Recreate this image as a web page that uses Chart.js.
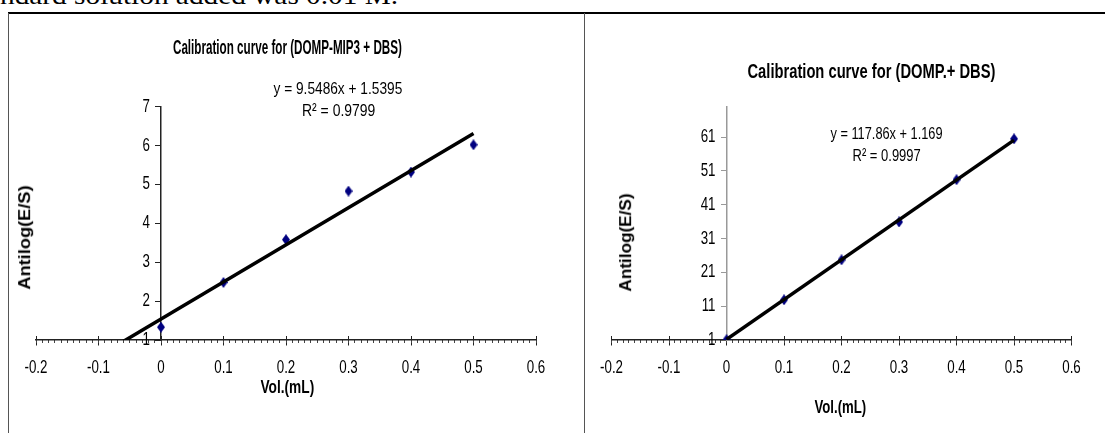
<!DOCTYPE html>
<html><head><meta charset="utf-8">
<script src="https://cdn.jsdelivr.net/npm/chart.js@4.4.1/dist/chart.umd.min.js"></script>
<style>
html,body{margin:0;padding:0;background:#fff;width:1105px;height:433px;overflow:hidden;position:relative;}
.t{position:absolute;white-space:nowrap;line-height:1;color:#000;transform-origin:center center;font-family:"Liberation Sans",Arial,sans-serif;}
.b{font-weight:bold;}
canvas{position:absolute;top:0;}
.ln{position:absolute;}
</style></head><body>
<div id="topText" class="t" style="font-family:'Liberation Serif','Times New Roman',serif;font-size:26px;transform-origin:left center;">ndard solution added was 0.01 M.</div>
<div class="ln" style="left:8px;top:12px;width:1097px;height:0;border-top:2px solid #000"></div>
<div class="ln" style="left:8px;top:13px;width:0;height:420px;border-left:1px solid #555"></div>
<div class="ln" style="left:584px;top:13px;width:0;height:420px;border-left:1px solid #555"></div>
<canvas id="c1" width="584" height="433" style="left:0;width:584px;height:433px"></canvas>
<canvas id="c2" width="521" height="433" style="left:584px;width:521px;height:433px"></canvas>

<div id="t1" class="t b" style="font-size:20px">Calibration curve for (DOMP-MIP3 + DBS)</div>
<div id="e1" class="t" style="font-size:17px">y = 9.5486x + 1.5395</div>
<div id="r1" class="t" style="font-size:17px">R² = 0.9799</div>
<div id="yt1" class="t b" style="font-size:17px">Antilog(E/S)</div>
<div id="xt1" class="t b" style="font-size:18px">Vol.(mL)</div>

<div id="t2" class="t b" style="font-size:20px">Calibration curve for (DOMP.+ DBS)</div>
<div id="e2" class="t" style="font-size:17px">y = 117.86x + 1.169</div>
<div id="r2" class="t" style="font-size:17px">R² = 0.9997</div>
<div id="yt2" class="t b" style="font-size:17px">Antilog(E/S)</div>
<div id="xt2" class="t b" style="font-size:18px">Vol.(mL)</div>

<script>
// ---- data ----
const volumes = [0, 0.1, 0.2, 0.3, 0.4, 0.5];
const leftValues = [1.33, 2.48, 3.58, 4.83, 5.32, 6.02];
const rightValues = [1.1, 12.9, 24.7, 35.9, 48.4, 60.5];
const xTickValues = [-0.2, -0.1, 0, 0.1, 0.2, 0.3, 0.4, 0.5, 0.6];
const leftYTicks = [1, 2, 3, 4, 5, 6, 7];
const rightYTicks = [1, 11, 21, 31, 41, 51, 61];
const leftSlope = 9.5486, leftIntercept = 1.5395;
const rightSlope = 117.86, rightIntercept = 1.169;
const leftTrendX = [-0.1, 0.5];
const rightTrendX = [0, 0.5];

// ---- text placement ----
function place(id, cx, cy, targetW, rot) {
  const el = document.getElementById(id);
  const w = el.offsetWidth, h = el.offsetHeight;
  const s = targetW ? targetW / w : 1;
  el.style.left = (cx - w / 2) + 'px';
  el.style.top = (cy - h / 2) + 'px';
  el.style.transform = (rot ? 'rotate(' + rot + 'deg) ' : '') + 'scaleX(' + s + ')';
}
(function () {
  const el = document.getElementById('topText');
  const w = el.offsetWidth;
  el.style.left = '0px';
  el.style.top = '-17px';
  el.style.transform = 'scaleX(' + (398 / w) + ')';
})();
place('t1', 287, 47, 229);
place('e1', 338, 88, 129);
place('r1', 338, 110, 73);
place('yt1', 24.5, 237, 104, -90);
place('xt1', 287, 387, 54);
place('t2', 871, 71, 248);
place('e2', 886, 133, 112);
place('r2', 886, 155, 68);
place('yt2', 625, 242, 98, -90);
place('xt2', 840, 407, 52);

// ---- condensed tick labels (library-computed label items, drawn narrow) ----
const labelSqueeze = 0.74;
const yLabelGap = 11;
class NarrowLinear extends Chart.LinearScale {
  drawLabels(chartArea) {
    if (!this.options.ticks.display) return;
    const ctx = this.ctx;
    const items = this.getLabelItems(chartArea);
    const shift = this.axis === 'y' ? -yLabelGap : 0;
    for (const it of items) {
      const o = it.options;
      ctx.save();
      ctx.translate(o.translation[0] + shift, o.translation[1]);
      ctx.scale(labelSqueeze, 1);
      ctx.font = it.font.string;
      ctx.fillStyle = o.color;
      ctx.textAlign = o.textAlign;
      ctx.textBaseline = o.textBaseline;
      ctx.fillText(String(it.label), 0, it.textOffset);
      ctx.restore();
    }
  }
}
NarrowLinear.id = 'narrowLinear';
NarrowLinear.defaults = {};
Chart.register(NarrowLinear);

// ---- marker ----
function diamond(w, h, color) {
  const c = document.createElement('canvas');
  c.width = w; c.height = h;
  const g = c.getContext('2d');
  g.fillStyle = color;
  g.beginPath();
  g.moveTo(w / 2, 0); g.lineTo(w, h / 2); g.lineTo(w / 2, h); g.lineTo(0, h / 2);
  g.closePath(); g.fill();
  return c;
}
const marker = diamond(8, 11, '#000080');
const tickFont = {family: '"Liberation Sans",Arial,sans-serif', size: 18};

function setTicks(arr) { return function (s) { s.ticks = arr.map(v => ({value: v})); }; }

function makeChart(canvasId, values, yMin, yMax, yTicks, slope, intercept, trendX, pad, yAxisColor, upOffset) {
  const trend = trendX.map(x => ({x: x, y: slope * x + intercept}));
  const pts = volumes.map((x, i) => ({x: x, y: values[i]}));
  return new Chart(document.getElementById(canvasId), {
    type: 'scatter',
    data: {
      datasets: [
        {type: 'line', data: trend, borderColor: '#000', borderWidth: 3.5, pointRadius: 0, fill: false, clip: 0, order: 0},
        {data: pts, pointStyle: marker, pointRadius: 5, backgroundColor: '#000080', borderColor: '#000080', order: 1}
      ]
    },
    options: {
      responsive: false, animation: false, devicePixelRatio: 1,
      layout: {padding: pad},
      plugins: {legend: {display: false}, tooltip: {enabled: false}, title: {display: false}},
      scales: {
        x: {
          type: 'narrowLinear', min: -0.2, max: 0.6, position: {y: yMin},
          afterBuildTicks: setTicks(xTickValues),
          ticks: {font: tickFont, color: '#000', padding: 12, callback: v => String(v)},
          grid: {drawOnChartArea: false, tickLength: 5, tickColor: '#222', tickWidth: 1},
          border: {color: '#222', width: 1.5}
        },
        xMinor: {
          type: 'linear', axis: 'x', min: -0.2, max: 0.6, position: {y: yMin},
          ticks: {display: false, stepSize: 0.01, autoSkip: false, maxTicksLimit: 200},
          grid: {drawOnChartArea: false, tickLength: 3, tickColor: '#444', tickWidth: 1},
          border: {display: false}
        },
        xUp: {
          type: 'linear', axis: 'x', min: -0.2, max: 0.6, position: {y: yMin + upOffset},
          afterBuildTicks: setTicks(xTickValues),
          ticks: {display: false},
          grid: {drawOnChartArea: false, tickLength: 4, tickColor: '#222', tickWidth: 1},
          border: {display: false}
        },
        y: {
          type: 'narrowLinear', min: yMin, max: yMax, position: {x: 0},
          afterBuildTicks: setTicks(yTicks),
          ticks: {font: tickFont, color: '#000', padding: 6, callback: v => String(v)},
          grid: {drawOnChartArea: false, tickLength: 5, tickColor: yAxisColor, tickWidth: 1},
          border: {color: yAxisColor, width: 1.5}
        }
      }
    }
  });
}

makeChart('c1', leftValues, 1, 7, leftYTicks, leftSlope, leftIntercept, leftTrendX,
  {left: 36, right: 48, top: 106.7, bottom: 93}, '#222', 0.1);
makeChart('c2', rightValues, 1, 70, rightYTicks, rightSlope, rightIntercept, rightTrendX,
  {left: 27.5, right: 33.5, top: 106.7, bottom: 93}, '#999', 1.2);
</script>
</body></html>
